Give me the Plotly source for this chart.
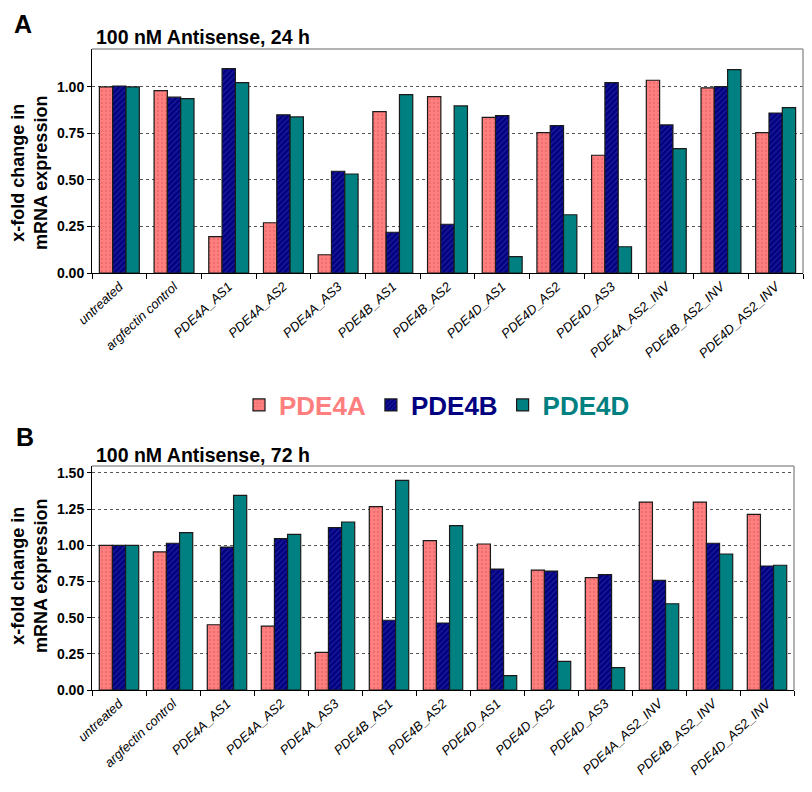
import plotly.graph_objects as go

categories = ["untreated", "argfectin control", "PDE4A_AS1", "PDE4A_AS2", "PDE4A_AS3",
              "PDE4B_AS1", "PDE4B_AS2", "PDE4D_AS1", "PDE4D_AS2", "PDE4D_AS3",
              "PDE4A_AS2_INV", "PDE4B_AS2_INV", "PDE4D_AS2_INV"]

# Panel A: 24 h
pde4a_24h = [1.00, 0.98, 0.195, 0.27, 0.098, 0.867, 0.948, 0.837, 0.754, 0.633, 1.036, 0.995, 0.754]
pde4b_24h = [1.005, 0.945, 1.098, 0.85, 0.547, 0.219, 0.262, 0.846, 0.792, 1.023, 0.796, 1.002, 0.86]
pde4d_24h = [1.00, 0.937, 1.023, 0.839, 0.532, 0.959, 0.898, 0.088, 0.313, 0.141, 0.668, 1.093, 0.889]

# Panel B: 72 h
pde4a_72h = [1.00, 0.954, 0.451, 0.442, 0.26, 1.267, 1.032, 1.009, 0.829, 0.776, 1.299, 1.299, 1.214]
pde4b_72h = [1.00, 1.014, 0.988, 1.046, 1.122, 0.482, 0.463, 0.836, 0.822, 0.797, 0.758, 1.014, 0.857]
pde4d_72h = [1.00, 1.087, 1.345, 1.076, 1.161, 1.449, 1.136, 0.099, 0.198, 0.154, 0.596, 0.94, 0.862]

series_names = ["PDE4A", "PDE4B", "PDE4D"]
colors = ["#FF7F7F", "#000080", "#008080"]
patterns = [
    dict(shape=".", fgcolor="#d85c5c", size=4, solidity=0.25),
    dict(shape="/", fgcolor="#3a3ab0", size=4, solidity=0.35),
    dict(shape=""),
]

# the page body has an 8px margin: size the figure so it fits the 812x792 window
OFF = 8
W, H = 812 - 2 * OFF, 792 - 2 * OFF
FONT = "Liberation Sans, Arial, sans-serif"

fig = go.Figure()

panels = [
    ("x", "y", [pde4a_24h, pde4b_24h, pde4d_24h], True),
    ("x2", "y2", [pde4a_72h, pde4b_72h, pde4d_72h], False),
]
for xa, ya, data, showleg in panels:
    for name, col, pat, vals in zip(series_names, colors, patterns, data):
        fig.add_trace(go.Bar(
            x=categories, y=vals, xaxis=xa, yaxis=ya,
            name=f"<span style='color:{col}'>{name}</span>",
            legendgroup=name, showlegend=showleg,
            marker=dict(color=col, line=dict(color="#1a1a1a", width=1.2), pattern=pat),
        ))

def px_x(p):
    return (p - OFF) / W

def px_y(p):
    return 1 - (p - OFF) / H

xcommon = dict(type="category", tickson="boundaries", ticks="outside", ticklen=5,
               tickcolor="#000", showline=True, linecolor="#000", linewidth=1,
               tickangle=-43, showgrid=False, automargin=False,
               tickfont=dict(family=FONT, size=13, color="#000", style="italic"))
ycommon = dict(dtick=0.25, tick0=0, tickformat=".2f", ticks="outside", ticklen=4,
               tickcolor="#000", showline=True, linecolor="#000", linewidth=1,
               showgrid=True, gridcolor="#555", gridwidth=1, griddash="3px,3px",
               zeroline=False, automargin=False,
               tickfont=dict(family=FONT, size=14, color="#000", weight="bold"))

fig.update_layout(
    width=W, height=H, autosize=False,
    margin=dict(l=0, r=0, t=0, b=0),
    paper_bgcolor="white", plot_bgcolor="white",
    barmode="group", bargap=0.27, bargroupgap=0,
    xaxis=dict(domain=[px_x(92), px_x(803)], anchor="y", **xcommon),
    yaxis=dict(domain=[px_y(273), px_y(49)], anchor="x", range=[0, 1.204], **ycommon),
    xaxis2=dict(domain=[px_x(92), px_x(794)], anchor="y2", **xcommon),
    yaxis2=dict(domain=[px_y(690), px_y(466)], anchor="x2", range=[0, 1.548], **ycommon),
    legend=dict(orientation="h", x=px_x(437), xanchor="center", y=px_y(405), yanchor="middle",
                font=dict(family=FONT, size=26, weight="bold"),
                bgcolor="rgba(0,0,0,0)", itemwidth=30, traceorder="normal"),
    showlegend=True,
)

# gray top/right frame
for xd, yd in [("x domain", "y domain"), ("x2 domain", "y2 domain")]:
    fig.add_shape(type="line", xref=xd, yref=yd, x0=0, x1=1, y0=1, y1=1,
                  line=dict(color="#999", width=1.5))
    fig.add_shape(type="line", xref=xd, yref=yd, x0=1, x1=1, y0=0, y1=1,
                  line=dict(color="#999", width=1.5))

ann = [
    dict(text="<b>A</b>", x=px_x(12), y=px_y(24), size=25),
    dict(text="<b>B</b>", x=px_x(14), y=px_y(437), size=25),
    dict(text="<b>100 nM Antisense, 24 h</b>", x=px_x(94), y=px_y(37), size=19.5),
    dict(text="<b>100 nM Antisense, 72 h</b>", x=px_x(94), y=px_y(455), size=19.5),
]
for a in ann:
    fig.add_annotation(text=a["text"], x=a["x"], y=a["y"], xref="paper", yref="paper",
                       xanchor="left", yanchor="middle", showarrow=False,
                       font=dict(family=FONT, size=a["size"], color="#000"))

for yc in [173, 576]:
    fig.add_annotation(text="<b>x-fold change in<br>mRNA expression</b>",
                       x=px_x(29), y=px_y(yc), xref="paper", yref="paper",
                       xanchor="center", yanchor="middle", textangle=-90, showarrow=False,
                       font=dict(family=FONT, size=18, color="#000"))

fig.write_html("out.html")
